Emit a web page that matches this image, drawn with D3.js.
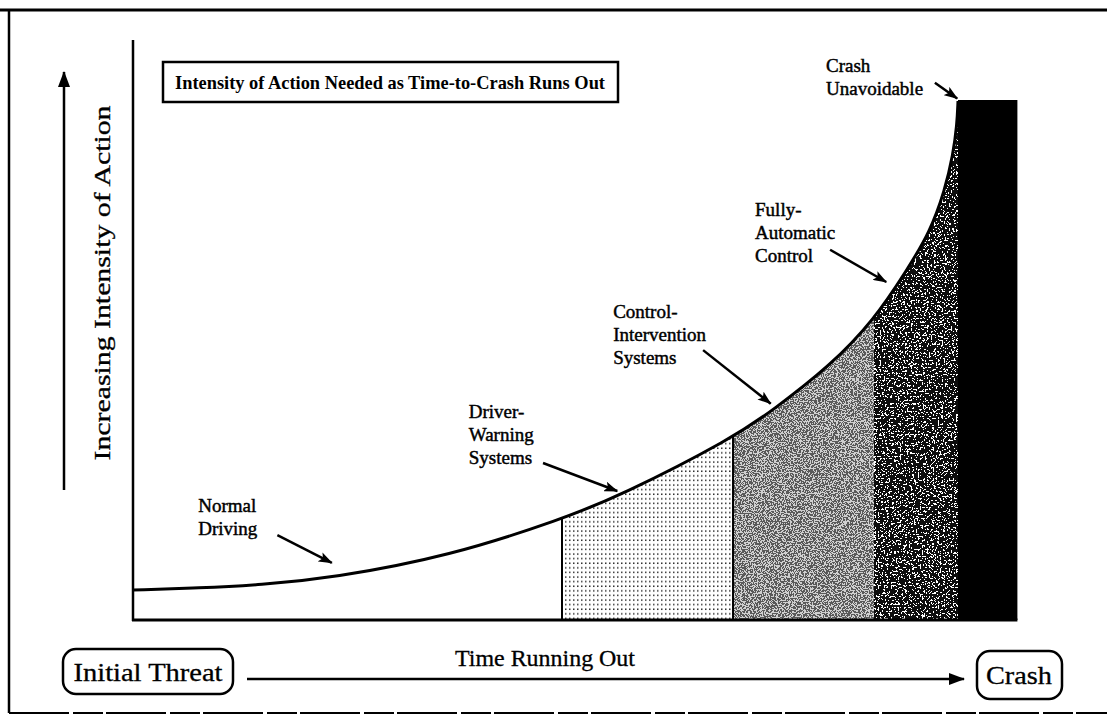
<!DOCTYPE html>
<html><head><meta charset="utf-8">
<script src="https://cdn.jsdelivr.net/npm/d3@7"></script>
<style>body{margin:0;background:#fff}svg{display:block}</style>
</head><body>
<svg id="chart" width="1107" height="726"></svg>
<script>
// ---- data ----
const timePoints      = [0, 8.12, 15.39, 24.12, 38.42, 52.0, 59.03, 72.73, 77.58, 84.48, 89.82, 93.82, 96.61, 98.42, 99.39, 99.88, 100];
const intensityValues = [5.77, 6.15, 6.73, 8.08, 12.31, 19.42, 23.85, 35.0, 40.38, 48.85, 57.69, 67.31, 74.62, 82.69, 89.42, 95.19, 99.81];
const zoneNames  = ["Normal Driving", "Driver-Warning Systems", "Control-Intervention Systems", "Fully-Automatic Control", "Crash Unavoidable"];
const zoneStarts = [0, 52.0, 72.73, 89.82, 100];
const zoneEnds   = [52.0, 72.73, 89.82, 100, 107.2];
const zoneLabelLines = [["Normal","Driving"],["Driver-","Warning","Systems"],["Control-","Intervention","Systems"],["Fully-","Automatic","Control"],["Crash","Unavoidable"]];
const titleText  = "Intensity of Action Needed as Time-to-Crash Runs Out";
const yAxisLabel = "Increasing Intensity of Action";
const xAxisLabel = "Time Running Out";
const xStartLabel = "Initial Threat";
const xEndLabel   = "Crash";

// ---- layout (data units) ----
const labelAnchorT = [7.9, 40.7, 58.2, 75.4, 84.0];
const labelAnchorV = [20.8, 38.8, 58.1, 77.7, 105.4];
const arrowFromT = [17.5, 49.7, 69.1, 84.5, 97.2];
const arrowFromV = [16.3, 30.2, 51.9, 71.2, 103.3];
const arrowToT   = [24.1, 58.7, 77.3, 91.3, 99.9];
const arrowToV   = [11.0, 24.8, 41.6, 65.0, 100.3];

const svg = d3.select("#chart");
const x = d3.scaleLinear().domain([0, 100]).range([133, 958]);
const y = d3.scaleLinear().domain([0, 100]).range([620, 100]);
const FONT = "'Liberation Serif', 'DejaVu Serif', serif";

const pts = timePoints.map((t, i) => ({t, v: intensityValues[i]}));
const crv = d3.curveBasis;
const line = d3.line().x(d => x(d.t)).y(d => y(d.v)).curve(crv);
const area = d3.area().x(d => x(d.t)).y0(y(0)).y1(d => y(d.v)).curve(crv);

const defs = svg.append("defs");
const pat = defs.append("pattern").attr("id","dots").attr("patternUnits","userSpaceOnUse").attr("width",4).attr("height",4.6);
pat.append("rect").attr("width",4).attr("height",4.6).attr("fill","#fff");
pat.append("rect").attr("x",1).attr("y",1.3).attr("width",1.5).attr("height",1.5).attr("fill","#333");

function speckFilter(id, seed, freq, table, r, g, b) {
  const f = defs.append("filter").attr("id", id).attr("filterUnits","userSpaceOnUse")
    .attr("x",0).attr("y",0).attr("width",1107).attr("height",726);
  f.append("feTurbulence").attr("type","fractalNoise").attr("baseFrequency",freq).attr("numOctaves",2).attr("seed",seed).attr("result","noise");
  f.append("feColorMatrix").attr("in","noise").attr("type","matrix")
    .attr("values",`0 0 0 0 ${r}  0 0 0 0 ${g}  0 0 0 0 ${b}  1 0 0 0 0`).attr("result","a");
  const ct = f.append("feComponentTransfer").attr("in","a").attr("result","th");
  ct.append("feFuncA").attr("type","discrete").attr("tableValues", table);
  f.append("feComposite").attr("in","th").attr("in2","SourceGraphic").attr("operator","in");
}
const mk = (cut) => d3.range(20).map(i => i >= cut ? 1 : 0).join(" ");
speckFilter("speckMed", 7, 0.75, mk(10), 0.1, 0.1, 0.1);
speckFilter("speckDark", 11, 0.55, mk(12), 1, 1, 1);

defs.append("clipPath").attr("id","areaClip").append("path").attr("d", area(pts));
zoneStarts.forEach((s, i) => {
  defs.append("clipPath").attr("id","zc"+i).append("rect")
    .attr("x", x(s)).attr("y", 0).attr("width", x(zoneEnds[i]) - x(s)).attr("height", 726);
});

// frame
svg.append("line").attr("x1",0).attr("x2",1107).attr("y1",10).attr("y2",10).attr("stroke","#000").attr("stroke-width",3);
svg.append("line").attr("x1",9).attr("x2",9).attr("y1",10).attr("y2",713).attr("stroke","#000").attr("stroke-width",2.5);
svg.append("line").attr("x1",9).attr("x2",1107).attr("y1",713).attr("y2",713).attr("stroke","#000").attr("stroke-width",2).attr("stroke-dasharray","60 4 30 3");

// zones
const zg = svg.append("g").attr("clip-path","url(#areaClip)");
zg.append("g").attr("clip-path","url(#zc1)").append("path").attr("d", area(pts)).attr("fill","url(#dots)");
const z2 = zg.append("g").attr("clip-path","url(#zc2)");
z2.append("path").attr("d", area(pts)).attr("fill","#cfcfcf");
z2.append("path").attr("d", area(pts)).attr("fill","#000").attr("filter","url(#speckMed)");
const z3 = zg.append("g").attr("clip-path","url(#zc3)");
z3.append("path").attr("d", area(pts)).attr("fill","#0d0d0d");
z3.append("path").attr("d", area(pts)).attr("fill","#000").attr("filter","url(#speckDark)");
[1,2].forEach(i => {
  zg.append("line").attr("x1", x(zoneStarts[i])).attr("x2", x(zoneStarts[i]))
    .attr("y1", y(0)).attr("y2", y(100)).attr("stroke","#000").attr("stroke-width",2);
});
svg.append("rect").attr("x", x(zoneStarts[4])).attr("y", y(100))
  .attr("width", x(zoneEnds[4]) - x(zoneStarts[4])).attr("height", y(0) - y(100)).attr("fill","#000");

// curve
svg.append("path").attr("d", line(pts)).attr("fill","none").attr("stroke","#000").attr("stroke-width",3);

// axes lines
svg.append("line").attr("x1",133).attr("x2",133).attr("y1",40).attr("y2",y(0)+1).attr("stroke","#000").attr("stroke-width",2.5);
svg.append("line").attr("x1",132).attr("x2",x(zoneEnds[4])).attr("y1",y(0)).attr("y2",y(0)).attr("stroke","#000").attr("stroke-width",3);

// arrow markers
defs.append("marker").attr("id","ah").attr("markerUnits","userSpaceOnUse").attr("viewBox","0 0 14 10")
  .attr("markerWidth",14).attr("markerHeight",10).attr("refX",13).attr("refY",5).attr("orient","auto")
  .append("path").attr("d","M0,0 L14,5 L0,10 L3,5 Z").attr("fill","#000");
defs.append("marker").attr("id","ahBig").attr("markerUnits","userSpaceOnUse").attr("viewBox","0 0 16 12")
  .attr("markerWidth",16).attr("markerHeight",12).attr("refX",15).attr("refY",6).attr("orient","auto")
  .append("path").attr("d","M0,0 L16,6 L0,12 Z").attr("fill","#000");

// labels + arrows
zoneLabelLines.forEach((lines, i) => {
  const tx = svg.append("text").attr("font-family", FONT).attr("font-size", 19)
    .attr("fill","#000").attr("stroke","#000").attr("stroke-width",0.45);
  lines.forEach((ln, j) => {
    tx.append("tspan").attr("x", x(labelAnchorT[i])).attr("y", y(labelAnchorV[i]) + j * 23).text(ln);
  });
  svg.append("line").attr("x1", x(arrowFromT[i])).attr("y1", y(arrowFromV[i]))
    .attr("x2", x(arrowToT[i])).attr("y2", y(arrowToV[i]))
    .attr("stroke","#000").attr("stroke-width",2.5).attr("marker-end","url(#ah)");
});

// title box
svg.append("rect").attr("x",163).attr("y",62).attr("width",455).attr("height",40)
  .attr("fill","#fff").attr("stroke","#000").attr("stroke-width",2.5);
svg.append("text").attr("x",175).attr("y",89).attr("font-family",FONT).attr("font-size",19)
  .attr("font-weight","bold").attr("textLength",430).attr("lengthAdjust","spacingAndGlyphs").text(titleText);

// y-axis arrow + label
svg.append("line").attr("x1",64).attr("x2",64).attr("y1",490).attr("y2",72)
  .attr("stroke","#000").attr("stroke-width",2.5).attr("marker-end","url(#ahBig)");
svg.append("text").attr("transform","translate(110,283) rotate(-90)").attr("text-anchor","middle")
  .attr("font-family",FONT).attr("font-size",23).attr("stroke","#000").attr("stroke-width",0.3)
  .attr("textLength",355).attr("lengthAdjust","spacingAndGlyphs").text(yAxisLabel);

// bottom: time axis
svg.append("rect").attr("x",63).attr("y",649).attr("width",170).attr("height",45).attr("rx",13)
  .attr("fill","#fff").attr("stroke","#000").attr("stroke-width",2.5);
svg.append("text").attr("x",148).attr("y",681).attr("text-anchor","middle").attr("font-family",FONT)
  .attr("font-size",25).attr("stroke","#000").attr("stroke-width",0.3)
  .attr("textLength",149).attr("lengthAdjust","spacingAndGlyphs").text(xStartLabel);
svg.append("rect").attr("x",977).attr("y",651).attr("width",85).attr("height",48).attr("rx",13)
  .attr("fill","#fff").attr("stroke","#000").attr("stroke-width",2.5);
svg.append("text").attr("x",1019).attr("y",684).attr("text-anchor","middle").attr("font-family",FONT)
  .attr("font-size",25).attr("stroke","#000").attr("stroke-width",0.3)
  .attr("textLength",66).attr("lengthAdjust","spacingAndGlyphs").text(xEndLabel);
svg.append("line").attr("x1",247).attr("x2",964).attr("y1",679).attr("y2",679)
  .attr("stroke","#000").attr("stroke-width",2.5).attr("marker-end","url(#ahBig)");
svg.append("text").attr("x",545).attr("y",666).attr("text-anchor","middle").attr("font-family",FONT)
  .attr("font-size",23).attr("stroke","#000").attr("stroke-width",0.3)
  .attr("textLength",180).attr("lengthAdjust","spacingAndGlyphs").text(xAxisLabel);
</script>
</body></html>
